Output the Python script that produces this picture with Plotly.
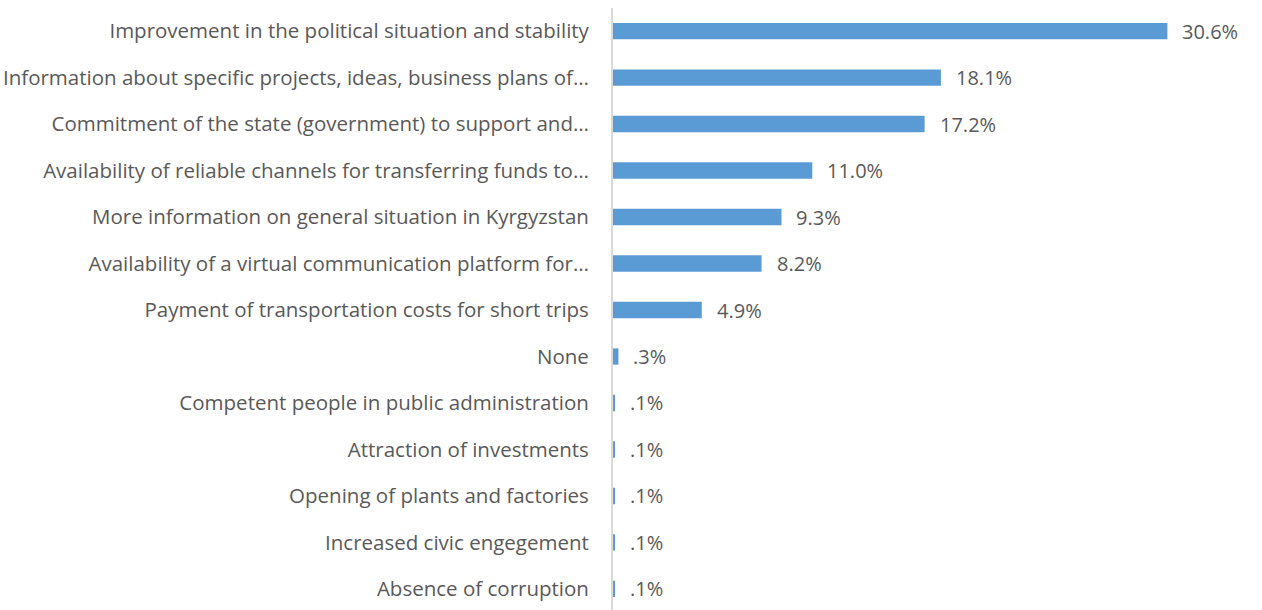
import plotly.graph_objects as go

categories = [
    "Improvement in the political situation and stability",
    "Information about specific projects, ideas, business plans of…",
    "Commitment of the state (government) to support and…",
    "Availability of reliable channels for transferring funds to…",
    "More information on general situation in Kyrgyzstan",
    "Availability of a virtual communication platform for…",
    "Payment of transportation costs for short trips",
    "None",
    "Competent people in public administration",
    "Attraction of investments",
    "Opening of plants and factories",
    "Increased civic engegement",
    "Absence of corruption",
]
values = [30.6, 18.1, 17.2, 11.0, 9.3, 8.2, 4.9, 0.3, 0.1, 0.1, 0.1, 0.1, 0.1]


def pct_label(v):
    s = f"{v:.1f}%"
    return s[1:] if s.startswith("0.") else s


BAR_COLOR = "#5B9BD5"
TEXT_COLOR = "#595959"
FONT = "Open Sans"
FONT_SIZE = 20.5

fig = go.Figure()
fig.add_trace(go.Bar(
    x=values,
    y=categories,
    orientation="h",
    marker=dict(color=BAR_COLOR, line=dict(width=0)),
    width=0.35,
    hoverinfo="skip",
))

for cat, v in zip(categories, values):
    fig.add_annotation(
        x=v, y=cat, text=pct_label(v), showarrow=False,
        xanchor="left", yanchor="middle", xshift=13,
        font=dict(family=FONT, size=20, color=TEXT_COLOR),
    )

fig.update_layout(
    width=1262, height=610,
    margin=dict(l=613, r=33, t=8, b=0),
    plot_bgcolor="white", paper_bgcolor="white",
    showlegend=False,
    font=dict(family=FONT, size=FONT_SIZE, color=TEXT_COLOR),
    xaxis=dict(range=[0, 34], visible=False, showgrid=False, zeroline=False,
               automargin=False),
    yaxis=dict(
        type="category",
        categoryorder="array", categoryarray=categories,
        range=[12.452, -0.495],
        automargin=False,
        showgrid=False, zeroline=False,
        showline=True, linecolor="#D9D9D9", linewidth=2,
        ticks="", ticklabelstandoff=18,
        tickfont=dict(family=FONT, size=FONT_SIZE, color=TEXT_COLOR),
    ),
)

fig.write_html("out.html")
